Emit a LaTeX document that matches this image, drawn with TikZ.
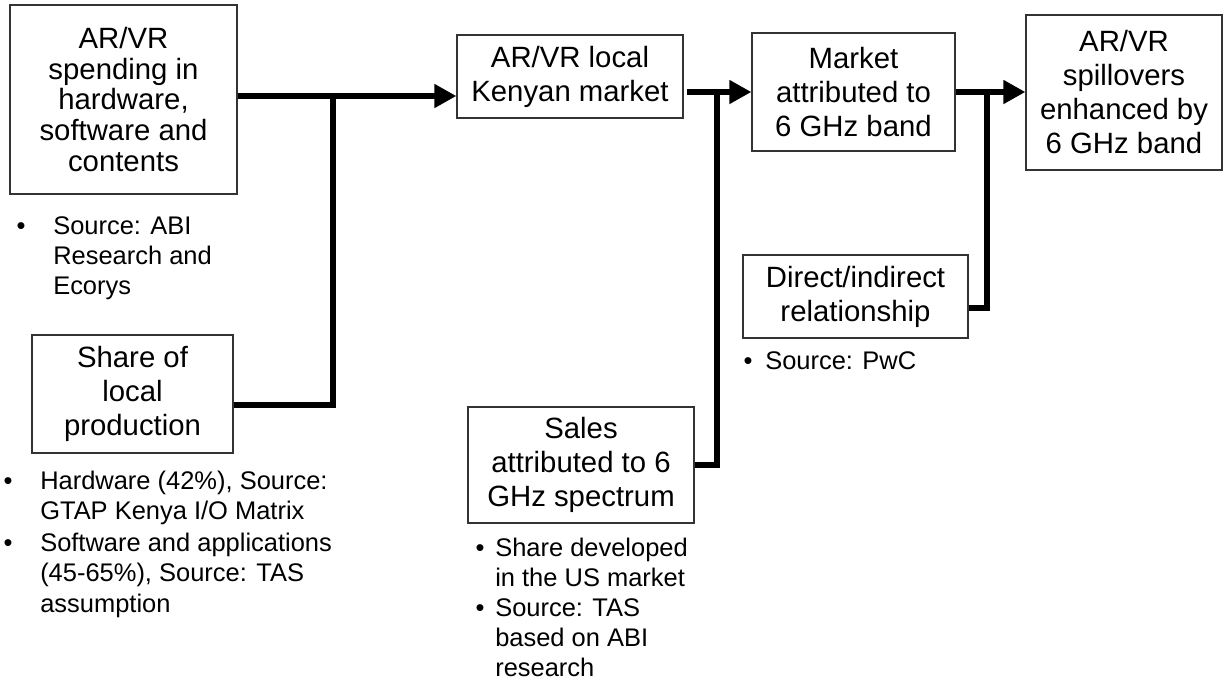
\documentclass[tikz,border=0pt]{standalone}
\usepackage{fontspec}
\setmainfont{Liberation Sans}
\usetikzlibrary{arrows.meta}
\begin{document}
\begin{tikzpicture}[x=0.75pt,y=-0.75pt,
  every node/.style={font=\fontsize{19.1pt}{22.7pt}\selectfont},
  box/.style={draw=black!80, line width=0.9pt, align=center, inner sep=0pt,
    font=\fontsize{22pt}{25.5pt}\selectfont},
  conn/.style={line width=4.5pt, line join=miter, line cap=butt},
  arr/.style={-{Triangle[length=16.5pt,width=17pt]}},
  blt/.style={anchor=north, inner sep=0pt},
  itm/.style={anchor=north west, align=left, inner sep=0pt}]
\useasboundingbox (0,0) rectangle (1225,683);
\fill[white] (0,0) rectangle (1225,683);

% boxes
\node[box, minimum width=170.25pt, minimum height=141.75pt,
  font=\fontsize{22pt}{23.1pt}\selectfont] (B1) at (123.5,99.5)
  {AR/VR\\spending in\\hardware,\\software and\\contents};
\node[box, minimum width=169.5pt, minimum height=62.25pt] (B2) at (570,76.5)
  {AR/VR local\\Kenyan market};
\node[box, minimum width=152.25pt, minimum height=88.5pt] (B3) at (853.5,92)
  {Market\\attributed to\\6 GHz band};
\node[box, minimum width=147pt, minimum height=116.25pt] (B4) at (1124,92.5)
  {AR/VR\\spillovers\\enhanced by\\6 GHz band};
\node[box, minimum width=150.75pt, minimum height=88.5pt] (Share) at (132.5,394)
  {Share of\\local\\production};
\node[box, minimum width=169.5pt, minimum height=87pt] (Sales) at (581,465)
  {Sales\\attributed to 6\\GHz spectrum};
\node[box, minimum width=168.75pt, minimum height=62.25pt] (Direct) at (855.5,296.5)
  {Direct/indirect\\relationship};

% bullet notes
\node[blt] (b1a) at (21,216) {\vphantom{Ab}\textbullet};
\node[itm] (t1a) at (53,216) {Source: ABI\\Research and\\Ecorys};

\node[blt] (b2a) at (8,471) {\vphantom{Ab}\textbullet};
\node[itm] (t2a) at (40,471) {Hardware (42\%), Source:\\GTAP Kenya I/O Matrix};
\node[blt] (b2b) at (8,533) {\vphantom{Ab}\textbullet};
\node[itm] (t2b) at (40,533) {Software and applications\\(45-65\%), Source: TAS\\assumption};

\node[blt] (b3a) at (480,538) {\vphantom{Ab}\textbullet};
\node[itm] (t3a) at (495,538) {Share developed\\in the US market};
\node[blt] (b3b) at (480,598) {\vphantom{Ab}\textbullet};
\node[itm] (t3b) at (495,598) {Source: TAS\\based on ABI\\research};

\node[blt] (b4a) at (748,351) {\vphantom{Ab}\textbullet};
\node[itm] (t4a) at (765,351) {Source: PwC};

% junctions
\coordinate (j1) at (333,96);
\coordinate (s1) at (333,405);
\coordinate (j2) at (717,92);
\coordinate (j3) at (987,92);
\coordinate (d1) at (987,308);

% connectors
\draw[conn,arr] (B1.east |- j1) -- (B2.west |- j1);
\draw[conn] (Share.east |- s1) -- (s1) -- (j1);
\draw[conn,arr] ([xshift=2.25pt]B2.east |- j2) -- (B3.west |- j2);
\draw[conn] (Sales.east) -| (j2);
\draw[conn,arr] (B3.east |- j3) -- (B4.west |- j3);
\draw[conn] (Direct.east |- d1) -- (d1) -- (j3);
\end{tikzpicture}
\end{document}
